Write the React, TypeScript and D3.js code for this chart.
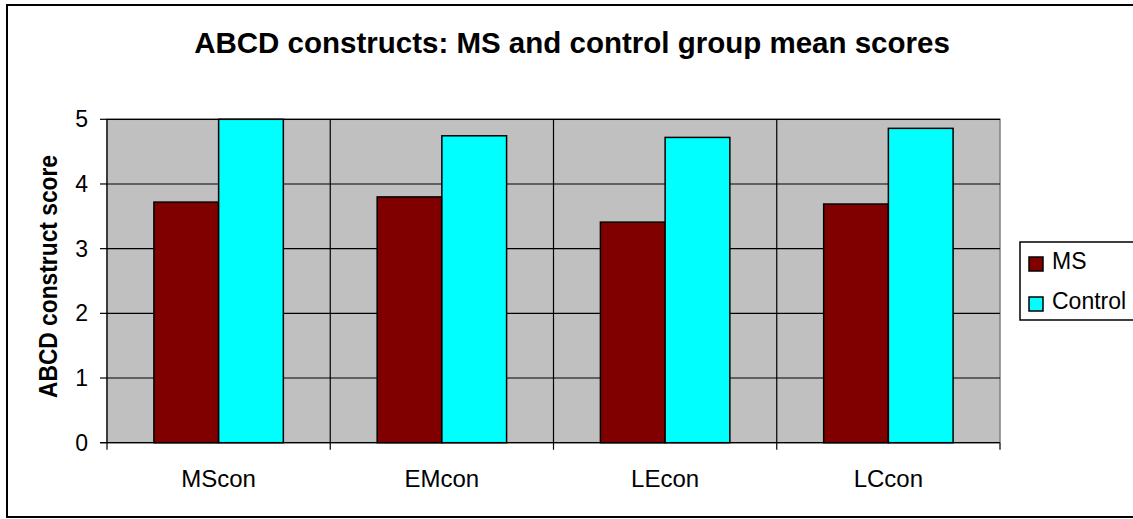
import React, { useEffect, useRef } from 'react';
import * as d3 from 'd3';

const categories = ['MScon', 'EMcon', 'LEcon', 'LCcon'];
const seriesNames = ['MS', 'Control'];
const msValues = [3.72, 3.8, 3.41, 3.69];
const controlValues = [5.0, 4.745, 4.72, 4.86];
const yTicks = [0, 1, 2, 3, 4, 5];

const colors = ['#800000', '#00ffff'];
const font = '"Liberation Sans", Arial, sans-serif';

const width = 1133;
const height = 519;
const plot = { left: 107, right: 1000, top: 119.3, bottom: 442.7 };

const App = () => {
  const ref = useRef<SVGSVGElement>(null);

  useEffect(() => {
    if (!ref.current) return;
    const svg = d3.select(ref.current);
    svg.selectAll('*').remove();

    // outer chart frame (runs off the right edge in the reference)
    svg
      .append('rect')
      .attr('x', 7)
      .attr('y', 5)
      .attr('width', 1140)
      .attr('height', 512)
      .attr('fill', '#fff')
      .attr('stroke', '#000')
      .attr('stroke-width', 2);

    svg
      .append('text')
      .attr('x', 572)
      .attr('y', 53)
      .attr('text-anchor', 'middle')
      .style('font-family', font)
      .style('font-weight', 700)
      .style('font-size', '29.5px')
      .text('ABCD constructs: MS and control group mean scores');

    const xScale = d3
      .scaleBand<string>()
      .domain(categories)
      .range([plot.left, plot.right])
      .padding(0);

    const bw = xScale.bandwidth();
    const gap = (bw * 1.45) / 3.45; // excel style gap width
    const inner = d3
      .scaleBand<string>()
      .domain(seriesNames)
      .range([gap / 2, bw - gap / 2])
      .padding(0);

    const yScale = d3
      .scaleLinear()
      .domain([0, 5])
      .range([plot.bottom, plot.top]);

    // plot area
    svg
      .append('rect')
      .attr('x', plot.left)
      .attr('y', plot.top)
      .attr('width', plot.right - plot.left)
      .attr('height', plot.bottom - plot.top)
      .attr('fill', '#c0c0c0')
      .attr('stroke', '#808080')
      .attr('stroke-width', 1.5);

    const grid = svg.append('g').attr('stroke', '#000').attr('stroke-width', 1.2);
    grid
      .selectAll('line.h')
      .data(yTicks.slice(1))
      .join('line')
      .attr('class', 'h')
      .attr('x1', plot.left)
      .attr('x2', plot.right)
      .attr('y1', d => yScale(d))
      .attr('y2', d => yScale(d));
    grid
      .selectAll('line.v')
      .data(categories.slice(1))
      .join('line')
      .attr('class', 'v')
      .attr('x1', d => xScale(d) as number)
      .attr('x2', d => xScale(d) as number)
      .attr('y1', plot.top)
      .attr('y2', plot.bottom);

    const rows = categories.map((c, i) => ({
      cat: c,
      vals: [msValues[i], controlValues[i]]
    }));

    svg
      .append('g')
      .selectAll('g')
      .data(rows)
      .join('g')
      .attr('transform', d => `translate(${xScale(d.cat)},0)`)
      .selectAll('rect')
      .data(d => d.vals.map((v, j) => ({ name: seriesNames[j], v, j })))
      .join('rect')
      .attr('x', d => inner(d.name) as number)
      .attr('width', inner.bandwidth())
      .attr('y', d => yScale(d.v))
      .attr('height', d => yScale(0) - yScale(d.v))
      .attr('fill', d => colors[d.j])
      .attr('stroke', '#000')
      .attr('stroke-width', 1.5);

    // axes
    const axis = svg.append('g').attr('stroke', '#000').attr('stroke-width', 1.2);
    axis
      .append('line')
      .attr('x1', plot.left)
      .attr('x2', plot.left)
      .attr('y1', plot.top)
      .attr('y2', plot.bottom);
    axis
      .append('line')
      .attr('x1', plot.left - 7)
      .attr('x2', plot.right)
      .attr('y1', plot.bottom)
      .attr('y2', plot.bottom);
    axis
      .selectAll('line.yt')
      .data(yTicks)
      .join('line')
      .attr('class', 'yt')
      .attr('x1', plot.left - 7)
      .attr('x2', plot.left)
      .attr('y1', d => yScale(d))
      .attr('y2', d => yScale(d));
    axis
      .selectAll('line.xt')
      .data([...categories.map(c => xScale(c) as number), plot.right])
      .join('line')
      .attr('class', 'xt')
      .attr('x1', d => d)
      .attr('x2', d => d)
      .attr('y1', plot.bottom)
      .attr('y2', plot.bottom + 7);

    svg
      .append('g')
      .selectAll('text')
      .data(yTicks)
      .join('text')
      .attr('x', 88)
      .attr('y', d => yScale(d))
      .attr('dy', '0.35em')
      .attr('text-anchor', 'end')
      .style('font-family', font)
      .style('font-size', '23px')
      .text(d => d);

    svg
      .append('g')
      .selectAll('text')
      .data(categories)
      .join('text')
      .attr('x', d => (xScale(d) as number) + bw / 2)
      .attr('y', 486.7)
      .attr('text-anchor', 'middle')
      .style('font-family', font)
      .style('font-size', '24px')
      .text(d => d);

    svg
      .append('text')
      .attr('transform', 'translate(57,276.5) rotate(-90)')
      .attr('text-anchor', 'middle')
      .attr('textLength', 243)
      .attr('lengthAdjust', 'spacingAndGlyphs')
      .style('font-family', font)
      .style('font-weight', 700)
      .style('font-size', '26px')
      .text('ABCD construct score');

    // legend
    const legend = svg.append('g');
    legend
      .append('rect')
      .attr('x', 1020)
      .attr('y', 242)
      .attr('width', 130)
      .attr('height', 78)
      .attr('fill', '#fff')
      .attr('stroke', '#000')
      .attr('stroke-width', 1.5);
    const items = legend
      .selectAll('g')
      .data(seriesNames)
      .join('g')
      .attr('transform', (_, i) => `translate(1029, ${257 + i * 40})`);
    items
      .append('rect')
      .attr('width', 14)
      .attr('height', 14)
      .attr('fill', (_, i) => colors[i])
      .attr('stroke', '#000')
      .attr('stroke-width', 1.5);
    items
      .append('text')
      .attr('x', 23)
      .attr('y', 12)
      .style('font-family', font)
      .style('font-size', '23px')
      .text(d => d);
  }, []);

  return (
    <svg
      ref={ref}
      width={width}
      height={height}
      style={{ position: 'absolute', left: 0, top: 0, display: 'block' }}
    />
  );
};

export default App;
